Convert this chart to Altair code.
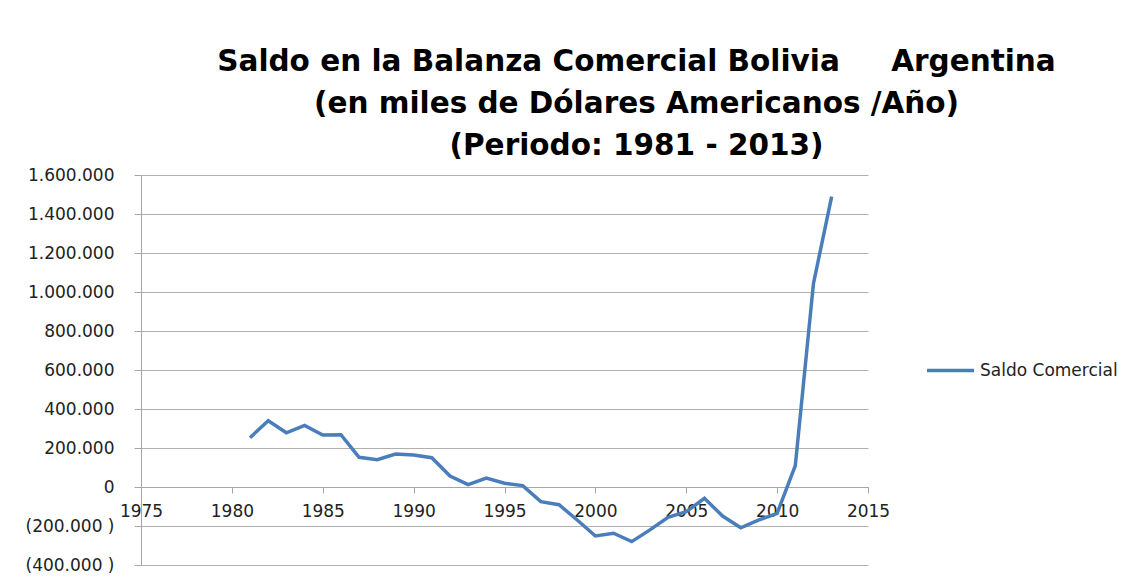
import altair as alt
import pandas as pd

years = list(range(1981, 2014))
saldo = [253000, 340000, 278000, 316000, 267000, 268000, 152000, 140000, 169000, 164000,
         150000, 56000, 12000, 46000, 19000, 7000, -75000, -91000, -169000, -251000,
         -237000, -280000, -220000, -155000, -127000, -58000, -149000, -209000, -169000,
         -135000, 110000, 1044000, 1489000]
serie = "Saldo Comercial"
title_lines = ["Saldo en la Balanza Comercial Bolivia\u00a0\u00a0\u00a0\u00a0\u00a0Argentina",
               "(en miles de Dólares Americanos /Año)",
               "(Periodo: 1981 - 2013)"]
y_ticks = list(range(-400000, 1600001, 200000))
x_ticks = list(range(1975, 2016, 5))

df = pd.DataFrame({"year": years, "saldo": saldo, "serie": [serie] * len(years)})

lab = "replace(replace(format(abs(datum.value), ','), ',', '.'), ',', '.')"
label_expr = f"datum.value < 0 ? '(' + {lab} + ' )' : {lab}"

chart = alt.Chart(df).mark_line(strokeWidth=3.5).encode(
    x=alt.X("year:Q",
            scale=alt.Scale(domain=[1975, 2015], nice=False, zero=False),
            axis=alt.Axis(values=x_ticks, format="d", title=None, grid=False,
                          offset=-78, domainColor="#a6a6a6", tickColor="#a6a6a6",
                          tickSize=6, labelFont="DejaVu Sans", labelFontSize=17,
                          labelColor="#222222", labelPadding=10, labelFlush=False,
                          labelOverlap=False, labelBound=False)),
    y=alt.Y("saldo:Q",
            scale=alt.Scale(domain=[-400000, 1600000], nice=False),
            axis=alt.Axis(values=y_ticks, labelExpr=label_expr, title=None,
                          gridColor="#b0b0b0", domainColor="#a6a6a6", tickColor="#a6a6a6",
                          tickSize=7, labelFont="DejaVu Sans", labelFontSize=17,
                          labelColor="#222222", labelPadding=20, labelOverlap=False,
                          labelFlush=False)),
    color=alt.Color("serie:N",
                    scale=alt.Scale(range=["#4A7EBB"]),
                    legend=alt.Legend(title=None, orient="none", legendX=784, legendY=170,
                                      symbolType="stroke", symbolSize=2209,
                                      symbolStrokeWidth=3.5, labelFont="DejaVu Sans",
                                      labelFontSize=17, labelColor="#222222", labelOffset=4,
                                      labelLimit=300)),
).properties(
    width=727,
    height=390,
    title=alt.TitleParams(text=title_lines, font="DejaVu Sans", fontSize=29.5,
                          fontWeight="bold", color="#000000", anchor="middle",
                          dx=132, lineHeight=42, offset=5, limit=1000),
    autosize=alt.AutoSizeParams(type="none"),
    padding={"left": 133, "top": 167, "right": 257, "bottom": 12},
).configure(background="white").configure_view(stroke="transparent", strokeWidth=0)

chart.save("out.html", embed_options={"renderer": "svg", "actions": False})
